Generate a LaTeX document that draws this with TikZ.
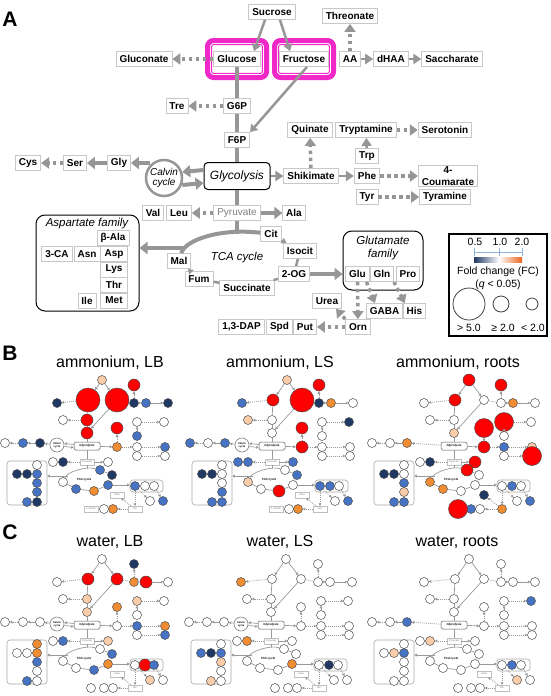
\documentclass[tikz,border=0pt]{standalone}
\usepackage{fontspec}
\setmainfont{Liberation Sans}
\usetikzlibrary{arrows.meta,calc}

\definecolor{arrowgray}{RGB}{150,150,150}
\definecolor{boxgray}{RGB}{200,200,200}
\definecolor{framepink}{RGB}{240,40,200}
\definecolor{tickblue}{RGB}{140,180,220}
\definecolor{barred}{RGB}{235,100,30}
\definecolor{fcw}{RGB}{255,255,255}
\definecolor{fcdb}{RGB}{31,56,100}
\definecolor{fcmb}{RGB}{70,115,195}
\definecolor{fcbg}{RGB}{250,205,170}
\definecolor{fcor}{RGB}{240,140,50}
\definecolor{fcrd}{RGB}{255,0,0}

\tikzset{
  box/.style={draw=boxgray, line width=0.8pt, fill=white, font=\bfseries\fontsize{10}{12}\selectfont,
    inner xsep=3.5pt, inner ysep=1pt, minimum height=15pt},
  col/.style={box, minimum width=27pt},
  pyrbox/.style={box, font=\fontsize{10}{12}\selectfont, text=gray},
  glycbox/.style={draw, line width=1pt, fill=white, rounded corners=4pt, minimum width=66pt,
    minimum height=27pt, font=\itshape\fontsize{12}{14}\selectfont},
  calvinring/.style={circle, draw=arrowgray, line width=2.5pt, fill=white, minimum size=36pt,
    inner sep=0pt, align=center, font=\itshape\fontsize{10}{10.5}\selectfont},
  fam/.style={draw, line width=1pt, rounded corners=9pt},
  famlabel/.style={font=\itshape\fontsize{11.5}{13}\selectfont, align=center},
  thickline/.style={draw=arrowgray, line width=4pt},
  thickarrow/.style={thickline, -{Triangle[length=8pt,width=12pt]}},
  thinline/.style={draw=arrowgray, line width=2.5pt},
  thinarrow/.style={thinline, -{Triangle[length=7pt,width=9pt]}},
  smallarrow/.style={thinline, line width=1.5pt, -{Triangle[length=5pt,width=6pt]}},
  headarrow/.style={draw=arrowgray, line width=2.5pt, -{Triangle[length=8pt,width=10pt]}},
  dotarrow/.style={draw=arrowgray, line width=3.5pt, dash pattern=on 3.5pt off 3.5pt,
    -{Triangle[length=8pt,width=11pt]}},
  pinkband/.style={draw=framepink, line width=5pt, rounded corners=6pt},
  pinkline/.style={draw=framepink, line width=1pt, rounded corners=2pt},
  legtext/.style={font=\fontsize{10.5}{12}\selectfont},
  ring/.style={circle, draw=gray!50!black, line width=0.8pt, inner sep=0pt},
  panel/.style={font=\bfseries\fontsize{21}{24}\selectfont},
  title/.style={font=\fontsize{16}{18}\selectfont},
  % small maps
  dot/.style={circle, draw=gray!60!black, line width=0.5pt, inner sep=0pt},
  tbox/.style={draw=gray!50, fill=white, font=\fontsize{2.6}{3}\selectfont, text=gray,
    inner sep=0.5pt, minimum height=6pt, minimum width=14pt},
  tglyc/.style={draw=gray!70!black, line width=0.5pt, fill=white, rounded corners=1.5pt,
    minimum width=26pt, minimum height=8pt, inner sep=0pt, font=\bfseries\itshape\fontsize{3}{3.5}\selectfont},
  tcalvin/.style={circle, draw=gray, line width=0.6pt, fill=white, minimum size=14pt, inner sep=0pt,
    align=center, font=\bfseries\itshape\fontsize{2.6}{3}\selectfont},
  tfam/.style={draw=gray!70, line width=0.6pt, rounded corners=3pt},
  tlabel/.style={font=\bfseries\itshape\fontsize{3}{3.5}\selectfont},
  tline/.style={draw=gray!80, line width=0.7pt},
  tarrow/.style={tline, -{Triangle[length=2.5pt,width=2.8pt]}},
  tdots/.style={tarrow, dash pattern=on 1pt off 1pt},
}

\newcommand\thumbdots[4]{%
  \foreach \n/\c/\s in {#4}
    \node[dot, fill=fc\c, minimum size=\s pt] (#1-\n) at ($(t-\n)+(#2,#3)$) {};
}
\newcommand\thumbbox[5]{\node[tbox] (#1-#4) at ($(t-#4)+(#2,#3)$) {#5};}
\newcommand\thumbframe[3]{%
  \begin{scope}[shift={(#2,#3)}]
    \node[tglyc] (#1-glyc) at (87,446) {Glycolysis};
    \node[tbox] (#1-pyr) at (87,462) {Pyruvate};
    \node[tfam, minimum width=40pt, minimum height=44pt] (#1-aspfam) at (27,483) {};
    \node[tfam, minimum width=33pt, minimum height=12pt] (#1-glufam) at (146.5,486) {};
    \node[tlabel] (#1-tca) at (84,480) {TCA cycle};
    \coordinate (#1-tcatop) at (87,468);
    \coordinate (#1-tcaout) at (68,476);
  \end{scope}}
\newcommand\thumbcalvin[3]{\node[tcalvin] (#1-calvin) at ($(t-calvin)+(#2,#3)$) {Calvin\\cycle};}
\newcommand\thumbedges[1]{%
  \foreach \a/\b in {suc/glc,suc/fru,fru/fsix,aa/dhaa,dhaa/sacc,glyc/shik,trp/trypt,pyr/ala,gly/ser}
    \draw[tarrow] (#1-\a) -- (#1-\b);
  \foreach \a/\b in {glc/glcn,gsix/tre,aa/thre,shik/quin,shik/phe,phe/coum,trypt/sero,tyr/tyra,
      pyr/leu,ser/cys,glu/orn,glu/gaba,pro/his,orn/urea,orn/put}
    \draw[tdots] (#1-\a) -- (#1-\b);
  \foreach \a/\b in {glc/gsix,gsix/fsix,fsix/glyc,glyc/pyr,cit/icit,icit/og,og/succ,succ/fum,fum/mal,pyr/tcatop}
    \draw[tline] (#1-\a) -- (#1-\b);
  \draw[tline, dash pattern=on 1pt off 1pt] (#1-fru) -- (#1-aa);
  \draw[tline] (#1-mal) .. controls +(4,-10) and +(-14,-4) .. (#1-cit);
  \draw[tarrow] (#1-tcaout) -- (#1-tcaout -| #1-aspfam.east);
  \draw[tarrow] (#1-og) -- (#1-og -| #1-glufam.west);
}
\newcommand\calvinedges[1]{%
  \draw[tarrow] ([yshift=1.5pt]#1-glyc.west) -- ([yshift=1.5pt]#1-calvin.east);
  \draw[tarrow] ([yshift=-1.5pt]#1-calvin.east) -- ([yshift=-1.5pt]#1-glyc.west);
  \draw[tarrow] (#1-calvin) -- (#1-gly);}
\newcommand\rootedges[1]{\draw[tdots] (#1-glyc) -- (#1-gly);}

\begin{document}
\begin{tikzpicture}[x=1pt,y=-1pt]
\useasboundingbox (0,0) rectangle (550,696);

% ---------- panel A ----------
\node[panel] (la) at (10,19) {A};
\foreach \cx in {237,304} {
  \draw[pinkband] (\cx-29.5,40.5) rectangle (\cx+29.5,77.5);
  \draw[pinkline] (\cx-25.4,44.6) rectangle (\cx+25.4,73.4);
}
\node[box] (suc) at (272,12) {Sucrose};
\node[box] (glc) at (237,59) {Glucose};
\node[box] (fru) at (304,59) {Fructose};
\node[box] (glcn) at (144,59) {Gluconate};
\node[box] (thre) at (350,16) {Threonate};
\node[box] (aa) at (350,59) {AA};
\node[box] (dhaa) at (391,59) {dHAA};
\node[box] (sacc) at (452,59) {Saccharate};
\node[box] (tre) at (177,106) {Tre};
\node[box] (gsix) at (237,106) {G6P};
\node[box] (fsix) at (237,140) {F6P};
\node[glycbox] (glyc) at (237,176) {Glycolysis};
\node[calvinring] (calvin) at (164,178) {Calvin\\cycle};
\node[box] (gly) at (119,163) {Gly};
\node[box] (ser) at (75,163) {Ser};
\node[box] (cys) at (28,163) {Cys};
\node[box] (shik) at (311,176) {Shikimate};
\node[box] (phe) at (367,176) {Phe};
\node[box, align=center] (coum) at (448,176) {4-\\Coumarate};
\node[box] (quin) at (310,130) {Quinate};
\node[box] (trypt) at (366,130) {Tryptamine};
\node[box] (sero) at (445,130) {Serotonin};
\node[box] (trp) at (367,156) {Trp};
\node[box] (tyr) at (367,197) {Tyr};
\node[box] (tyra) at (445,197) {Tyramine};
\node[box] (val) at (153,213) {Val};
\node[box] (leu) at (179,213) {Leu};
\node[pyrbox] (pyr) at (237,213) {Pyruvate};
\node[box] (ala) at (294,213) {Ala};
% aspartate family
\node[fam, minimum width=103pt, minimum height=96pt] (aspfam) at (87.5,263) {};
\node[famlabel] (asplab) at (87,224) {Aspartate family};
\node[col, minimum width=32pt] (bala) at (113,238) {β-Ala};
\node[box] (tcaa) at (57,254) {3-CA};
\node[box] (asn) at (87,254) {Asn};
\node[col] (asp) at (114,254) {Asp};
\node[col] (lys) at (114,269.5) {Lys};
\node[col] (thr) at (114,285) {Thr};
\node[col] (met) at (114,300.5) {Met};
\node[box] (ile) at (87,300.5) {Ile};
% TCA cycle
\node[box] (cit) at (271,234) {Cit};
\node[box] (icit) at (300,251) {Isocit};
\node[box] (og) at (294,274) {2-OG};
\node[box] (succ) at (247,288) {Succinate};
\node[box] (fum) at (199,279) {Fum};
\node[box] (mal) at (179,261) {Mal};
\node[famlabel] (tcalab) at (237,258) {TCA cycle};
% glutamate family
\node[fam, minimum width=80pt, minimum height=59pt] (glufam) at (383,260.5) {};
\node[famlabel] (glulab) at (383,248) {Glutamate\\family};
\node[box] (glu) at (357.5,274) {Glu};
\node[box] (gln) at (382,274) {Gln};
\node[box] (pro) at (408,274) {Pro};
\node[box] (urea) at (327,301) {Urea};
\node[box] (gaba) at (384.5,311) {GABA};
\node[box] (his) at (414.5,311) {His};
\node[box] (orn) at (358,327) {Orn};
\node[box] (put) at (305,327) {Put};
\node[box] (spd) at (279.5,327) {Spd};
\node[box] (dap) at (241.5,327) {1,3-DAP};

\draw[thinarrow] ([xshift=-7pt]suc.south) -- ([xshift=17pt]glc.north);
\draw[thinarrow] ([xshift=8pt]suc.south) -- ([xshift=-14pt]fru.north);
\draw[dotarrow] (glc) -- (glcn);
\draw[thickline] (glc) -- (gsix);
\draw[thickline] (gsix) -- (fsix);
\draw[thickline] (fsix) -- (glyc);
\draw[thinarrow] ([xshift=3pt]fru.south) -- (fsix.north east);
\draw[dotarrow] (aa) -- (thre);
\draw[headarrow] (aa) -- (dhaa);
\draw[headarrow] (dhaa) -- (sacc);
\draw[dotarrow] (gsix) -- (tre);
\draw[thickarrow] ($(glyc.west)+(0,-6)$) -- ($(calvin.east)+(-1,-6)$);
\draw[thickarrow] ($(calvin.east)+(-1,7)$) -- ($(glyc.west)+(0,7)$);
\draw[thickarrow] (calvin.north west |- gly) -- (gly);
\draw[thickarrow] (gly) -- (ser);
\draw[dotarrow] (ser) -- (cys);
\draw[headarrow] (glyc) -- (shik);
\draw[dotarrow] (shik) -- (quin);
\draw[headarrow] (shik) -- (phe);
\draw[dotarrow] (phe) -- (coum);
\draw[headarrow] (trp) -- (trypt);
\draw[dotarrow] (trypt) -- (sero);
\draw[dotarrow] (tyr) -- (tyra);
\draw[thickline] (glyc) -- (pyr);
\draw[dotarrow] (pyr) -- (leu);
\draw[thickarrow] (pyr) -- (ala);
\coordinate (tcatop) at (237,234);
\coordinate (tcaout) at (183,248);
\draw[thickline] (pyr) -- (tcatop);
\draw[thickline] (mal) .. controls (185,240) and (220,228) .. (cit);
\draw[thickarrow] (tcaout) -- (tcaout -| aspfam.east);
\draw[smallarrow] (cit) -- (icit);
\draw[thinline] (icit) -- (og);
\draw[thinline] (og) -- (succ);
\draw[thinline] (succ) -- (fum);
\draw[smallarrow] (fum) -- (mal);
\draw[thickarrow] (og) -- (og -| glufam.west);
\draw[dotarrow] (glu) -- (orn);
\draw[dotarrow] ([xshift=9pt]glu.south) -- ([xshift=9pt]gaba.north west);
\draw[dotarrow] ([xshift=-14pt]pro.south) -- ([xshift=2pt]his.north west);
\draw[dotarrow] (orn.north west) -- ([xshift=-6pt]urea.south east);
\draw[dotarrow] (orn) -- (put);

% legend
\node[draw, line width=1.2pt, minimum width=98pt, minimum height=102pt] (legend) at (498,285) {};
\foreach \v/\x in {0.5/475,1.0/500,2.0/522} \node[legtext] (lv\x) at (\x,242) {\v};
\draw[tickblue, line width=0.8pt] (474,252) -- (522,252);
\foreach \x in {474,499,522} \draw[tickblue, line width=0.8pt] (\x,248) -- (\x,256);
\shade[left color=fcdb, right color=white] (474,257) rectangle (499,262);
\shade[left color=white, right color=barred] (499,257) rectangle (522,262);
\node[legtext] (fc) at (498,272) {Fold change (FC)};
\node[legtext] (qv) at (498,285) {(\textit{q} < 0.05)};
\node[ring, minimum size=32pt] (big) at (469,304) {};
\node[ring, minimum size=16pt] (mid) at (501,304) {};
\node[ring, minimum size=12pt] (small) at (532,304) {};
\node[legtext] (lbig) at (469,328) {> 5.0};
\node[legtext] (lmid) at (503,328) {≥ 2.0};
\node[legtext] (lsmall) at (533,328) {< 2.0};

% ---------- panels B and C ----------
\foreach \n/\x/\y in {suc/102/380, glc/88/400, fru/117/400, glcn/57/403, thre/134/385, aa/134/403,
    dhaa/146/403, sacc/168/403, tre/63/420, gsix/87/420, fsix/87/433, quin/117/428, trypt/137/422,
    sero/164/422, trp/137/436, shik/117/447, phe/137/447, coum/165/447, tyr/137/456, tyra/165/456,
    cys/5/443, ser/23/443, gly/40/443, calvin/57/445, val/53/462, leu/63/462, ala/108/462,
    bala/37/465, tcaa/17/474, asn/27/474, asp/37/474, lys/37/483, thr/37/492, met/37/502, ile/27/502,
    cit/100/470, icit/112/475, og/108/485, succ/94/491, fum/76/489, mal/63/482,
    glu/135/486, gln/145/486, pro/154/486, gaba/150/501, his/163/501,
    urea/117/495, orn/135/509, put/113/509, spd/104/509, dap/91/509}
  \coordinate (t-\n) at (\x,\y);

\node[panel] (lb) at (10,353) {B};
\node[panel] (lc) at (10,532) {C};
\node[title] (tb1) at (110,363) {ammonium, LB};
\node[title] (tb2) at (280,363) {ammonium, LS};
\node[title] (tb3) at (458,363) {ammonium, roots};
\node[title] (tc1) at (110,542) {water, LB};
\node[title] (tc2) at (280,542) {water, LS};
\node[title] (tc3) at (457,542) {water, roots};

% ammonium, LB
\thumbframe{b1}{0}{0}
\thumbcalvin{b1}{0}{0}
\thumbbox{b1}{0}{0}{urea}{Urea}
\thumbbox{b1}{0}{0}{orn}{Orn}
\thumbbox{b1}{0}{0}{dap}{1,3-DAP}
\thumbdots{b1}{0}{0}{suc/bg/9, glc/rd/24, fru/rd/24, glcn/db/9, thre/rd/12, aa/db/9, dhaa/mb/9,
  sacc/db/9, tre/w/9, gsix/rd/12, fsix/rd/12, quin/rd/12, trypt/w/9, sero/w/9, trp/mb/9, shik/or/9,
  phe/w/9, coum/mb/9, tyr/w/9, tyra/w/9, cys/w/9, ser/mb/9, gly/db/9, val/w/9, leu/db/9, ala/w/9,
  bala/w/9, tcaa/db/9, asn/db/9, asp/mb/9, lys/mb/9, thr/mb/9, met/db/9, ile/mb/9, cit/mb/9,
  icit/db/9, og/mb/9, succ/or/9, fum/mb/9, mal/w/9, glu/mb/9, gln/w/9, pro/w/9, gaba/w/9,
  his/mb/9, spd/w/9, put/or/9}
\thumbedges{b1}
\calvinedges{b1}

% ammonium, LS
\thumbframe{b2}{185}{0}
\thumbcalvin{b2}{185}{0}
\thumbbox{b2}{185}{0}{urea}{Urea}
\thumbbox{b2}{185}{0}{orn}{Orn}
\thumbbox{b2}{185}{0}{dap}{1,3-DAP}
\thumbdots{b2}{185}{0}{suc/bg/9, glc/rd/12, fru/rd/24, glcn/mb/9, thre/rd/12, aa/db/9, dhaa/or/9,
  sacc/w/9, tre/bg/9, gsix/w/9, fsix/w/9, quin/rd/12, trypt/w/9, sero/db/9, trp/w/9, shik/rd/12,
  phe/w/9, coum/w/9, tyr/w/9, tyra/w/9, cys/mb/9, ser/w/9, gly/mb/9, val/mb/9, leu/mb/9, ala/mb/9,
  bala/w/9, tcaa/db/9, asn/db/9, asp/w/9, lys/w/9, thr/mb/9, met/mb/9, ile/mb/9, cit/w/9,
  icit/mb/9, og/w/9, succ/rd/12, fum/w/9, mal/bg/9, glu/mb/9, gln/mb/9, pro/w/9, gaba/w/9,
  his/mb/9, spd/w/9, put/or/9}
\thumbedges{b2}
\calvinedges{b2}

% ammonium, roots
\thumbframe{b3}{367}{0}
\thumbdots{b3}{367}{0}{suc/rd/12, glc/rd/12, fru/w/9, glcn/w/9, thre/rd/12, aa/w/9, dhaa/or/9,
  sacc/w/9, tre/w/9, gsix/w/9, fsix/bg/9, quin/rd/19, trypt/rd/19, sero/w/9, trp/w/9, shik/rd/12,
  phe/mb/9, coum/bg/9, tyr/w/9, tyra/rd/19, cys/w/9, ser/w/9, gly/or/9, val/w/9, leu/db/9, ala/rd/12,
  bala/w/9, tcaa/db/9, asn/db/9, asp/w/9, lys/mb/9, thr/bg/9, met/mb/9, ile/mb/9, cit/rd/12,
  icit/w/9, og/w/9, succ/w/9, fum/or/9, mal/or/9, glu/w/9, gln/mb/9, pro/w/9, gaba/w/9,
  his/mb/9, urea/db/9, orn/or/9, put/w/9, spd/mb/9, dap/rd/19}
\thumbedges{b3}
\rootedges{b3}

% water, LB
\thumbframe{c1}{0}{179}
\thumbcalvin{c1}{0}{179}
\thumbbox{c1}{0}{179}{urea}{Urea}
\thumbbox{c1}{0}{179}{orn}{Orn}
\thumbdots{c1}{0}{179}{suc/w/9, glc/rd/12, fru/rd/12, glcn/w/9, thre/db/9, aa/or/9, dhaa/rd/12,
  sacc/w/9, tre/w/9, gsix/bg/9, fsix/bg/9, quin/or/9, trypt/bg/9, sero/w/9, trp/w/9, shik/w/9,
  phe/mb/9, coum/or/9, tyr/w/9, tyra/mb/9, cys/w/9, ser/w/9, gly/w/9, val/w/9, leu/mb/9, ala/bg/9,
  bala/or/9, tcaa/w/9, asn/w/9, asp/or/9, lys/mb/9, thr/w/9, met/w/9, ile/mb/9, cit/w/9,
  icit/mb/9, og/or/9, succ/mb/9, fum/w/9, mal/w/9, glu/w/9, gln/rd/12, pro/mb/9, gaba/bg/9,
  his/w/9, dap/w/9, spd/w/9, put/w/9}
\thumbedges{c1}
\calvinedges{c1}

% water, LS
\thumbframe{c2}{184}{179}
\thumbcalvin{c2}{184}{179}
\thumbbox{c2}{184}{179}{urea}{Urea}
\thumbbox{c2}{184}{179}{orn}{Orn}
\thumbdots{c2}{184}{179}{suc/w/9, glc/w/9, fru/w/9, glcn/or/9, thre/w/9, aa/w/9, dhaa/w/9,
  sacc/w/9, tre/w/9, gsix/w/9, fsix/w/9, quin/w/9, trypt/w/9, sero/w/9, trp/w/9, shik/w/9,
  phe/w/9, coum/w/9, tyr/w/9, tyra/w/9, cys/w/9, ser/w/9, gly/w/9, val/w/9, leu/or/9, ala/w/9,
  bala/w/9, tcaa/mb/9, asn/db/9, asp/mb/9, lys/bg/9, thr/w/9, met/w/9, ile/bg/9, cit/w/9,
  icit/w/9, og/or/9, succ/w/9, fum/w/9, mal/w/9, glu/w/9, gln/db/9, pro/w/9, gaba/w/9,
  his/w/9, dap/w/9, spd/w/9, put/w/9}
\thumbedges{c2}
\calvinedges{c2}

% water, roots
\thumbframe{c3}{367}{179}
\thumbbox{c3}{367}{179}{urea}{Urea}
\thumbbox{c3}{367}{179}{orn}{Orn}
\thumbdots{c3}{367}{179}{suc/w/9, glc/w/9, fru/w/9, glcn/w/9, thre/w/9, aa/w/9, dhaa/w/9,
  sacc/w/9, tre/w/9, gsix/w/9, fsix/w/9, quin/w/9, trypt/w/9, sero/mb/9, trp/w/9, shik/w/9,
  phe/w/9, coum/w/9, tyr/w/9, tyra/w/9, cys/w/9, ser/w/9, gly/mb/9, val/w/9, leu/bg/9, ala/w/9,
  bala/w/9, tcaa/w/9, asn/bg/9, asp/mb/9, lys/w/9, thr/w/9, met/w/9, ile/w/9, cit/w/9,
  icit/w/9, og/w/9, succ/w/9, fum/w/9, mal/w/9, glu/w/9, gln/mb/9, pro/w/9, gaba/bg/9,
  his/w/9, dap/w/9, spd/w/9, put/w/9}
\thumbedges{c3}
\rootedges{c3}
\end{tikzpicture}
\end{document}
